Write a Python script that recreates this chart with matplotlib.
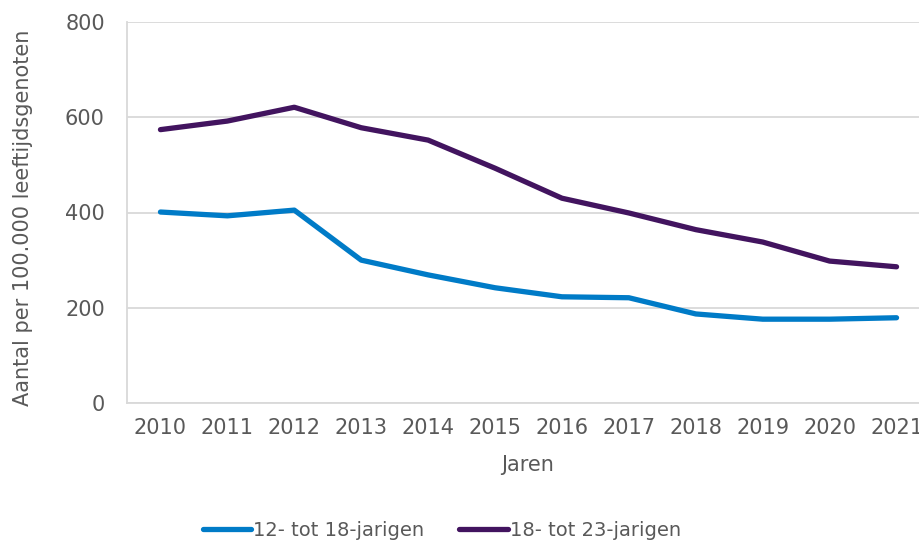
import matplotlib
matplotlib.use("Agg")
import matplotlib.pyplot as plt
from matplotlib.lines import Line2D

years = ["2010", "2011", "2012", "2013", "2014", "2015", "2016", "2017", "2018", "2019", "2020", "2021"]
jong = [401, 393, 405, 300, 269, 242, 223, 221, 187, 176, 176, 179]
oud = [574, 592, 621, 578, 552, 493, 430, 399, 364, 338, 298, 286]
series_labels = ["12- tot 18-jarigen", "18- tot 23-jarigen"]
y_ticks = [0, 200, 400, 600, 800]

c_blue = "#007BC7"
c_purple = "#42145F"
c_text = "#595959"
c_grid = "#D9D9D9"
fs = 15

plt.rcParams["font.family"] = ["DejaVu Sans"]

fig = plt.figure(figsize=(9.2, 5.44), dpi=100)
W, H = 920, 544
left, right, top, bottom = 127, 930, 22, 403
ax = fig.add_axes([left / W, 1 - bottom / H, (right - left) / W, (bottom - top) / H])

x = list(range(len(years)))
ax.plot(x, jong, color=c_blue, lw=3.8, solid_capstyle="round", solid_joinstyle="round", zorder=3)
ax.plot(x, oud, color=c_purple, lw=3.8, solid_capstyle="round", solid_joinstyle="round", zorder=3)

ax.set_xlim(-0.5, len(years) - 0.5)
ax.set_ylim(0, 800)
ax.set_yticks(y_ticks)
ax.set_xticks(x)
ax.set_xticklabels(years)
ax.yaxis.grid(True, color=c_grid, lw=1.3)
ax.set_axisbelow(True)
for s in ["top", "right"]:
    ax.spines[s].set_visible(False)
for s in ["left", "bottom"]:
    ax.spines[s].set_color(c_grid)
    ax.spines[s].set_linewidth(1.3)
ax.tick_params(axis="both", length=0, labelsize=fs, colors=c_text)
ax.tick_params(axis="x", pad=11)
ax.tick_params(axis="y", pad=16)
ax.set_xlabel("Jaren", fontsize=fs, color=c_text)
ax.set_ylabel("Aantal per 100.000 leeftijdsgenoten", fontsize=fs, color=c_text)
ax.xaxis.set_label_coords(0.5 * (920 - 127) / 803 - 0.5 * (920 - 127) / 803 + (528 - 127) / 803, (403 - 455) / 381)
ax.yaxis.set_label_coords((33 - 127) / 803, (403 - 218) / 381)

handles = [Line2D([], [], color=c_blue, lw=3.8, solid_capstyle="round"),
           Line2D([], [], color=c_purple, lw=3.8, solid_capstyle="round")]
leg = fig.legend(handles, series_labels, loc="center", bbox_to_anchor=(442 / W, 1 - 530 / H),
                 ncol=2, frameon=False, fontsize=14, handlelength=2.5, handletextpad=0.1,
                 columnspacing=1.8, borderpad=0)
for t in leg.get_texts():
    t.set_color(c_text)

fig.savefig("out.png", dpi=100)
